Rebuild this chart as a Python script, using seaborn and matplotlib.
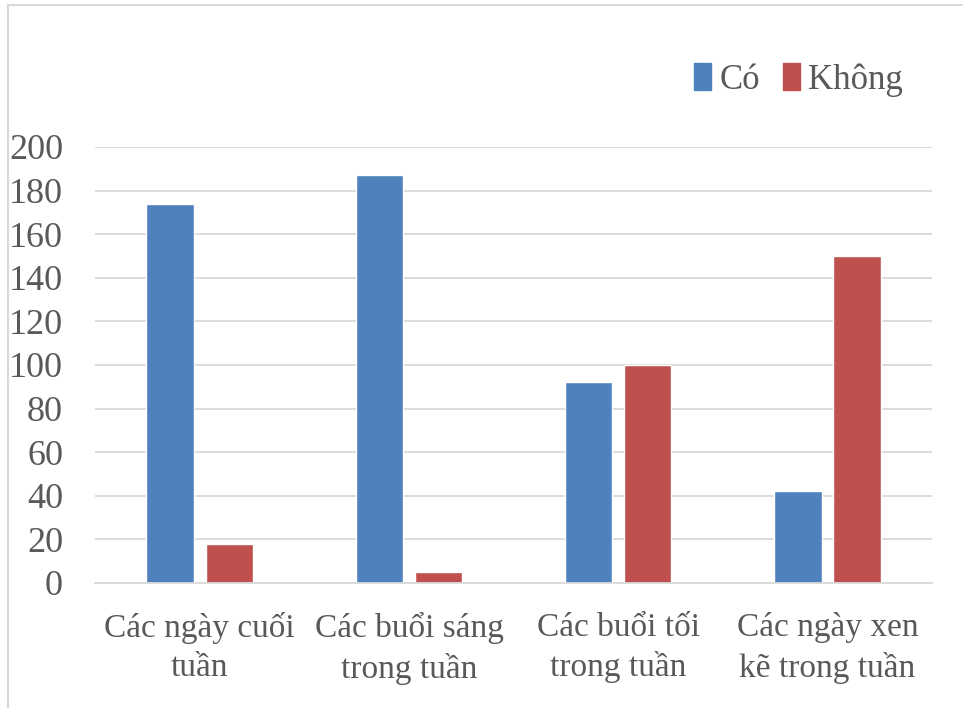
import matplotlib.pyplot as plt
import matplotlib.patches as mpatches
import seaborn as sns
import pandas as pd

# data
categories = ['Các ngày cuối\ntuần', 'Các buổi sáng\ntrong tuần',
              'Các buổi tối\ntrong tuần', 'Các ngày xen\nkẽ trong tuần']
co = [174, 187, 92, 42]
khong = [18, 5, 100, 150]
series = ['Có', 'Không']
yticks = [0, 20, 40, 60, 80, 100, 120, 140, 160, 180, 200]

df = pd.DataFrame({'cat': categories * 2,
                   'val': co + khong,
                   'series': [series[0]] * 4 + [series[1]] * 4})

sns.set_theme(style='white')
plt.rcParams['font.family'] = ['Liberation Serif', 'DejaVu Serif']
txt = '#595959'

fig = plt.figure(figsize=(9.63, 7.08), dpi=100)
ax = fig.add_axes([0.0987, 0.1766, 0.8693, 0.6158])

sns.barplot(data=df, x='cat', y='val', hue='series', ax=ax,
            palette=['#4F81BD', '#C0504D'], width=0.565, gap=0.2,
            saturation=1, legend=False)

ax.set_ylim(0, 200)
ax.set_yticks(yticks)
ax.set_xlim(-0.5, 3.5)
ax.yaxis.grid(True, color='#D9D9D9', linewidth=1.3)
ax.set_axisbelow(True)
for s in ax.spines.values():
    s.set_visible(False)
ax.spines['bottom'].set_visible(True)
ax.spines['bottom'].set_color('#D9D9D9')
ax.spines['bottom'].set_linewidth(1.3)
ax.tick_params(axis='y', length=0, labelsize=26, colors=txt, pad=23)
ax.tick_params(axis='x', length=0, labelsize=24, colors=txt, pad=21)
ax.set_xlabel('')
ax.set_ylabel('')
for lab in ax.get_xticklabels():
    lab.set_linespacing(1.34)

handles = [mpatches.Patch(color='#4F81BD', label='Có'),
           mpatches.Patch(color='#C0504D', label='Không')]
fig.legend(handles=handles, loc='center', bbox_to_anchor=(0.829, 0.887), ncol=2,
           frameon=False, fontsize=25, labelcolor=txt, handlelength=0.5,
           handleheight=0.8, handletextpad=0.23, columnspacing=0.65)

# outer chart border
fig.patches.append(mpatches.Rectangle((0.008, -0.01), 1.0, 1.003, transform=fig.transFigure,
                                      fill=False, edgecolor='#D9D9D9', linewidth=1.5))

fig.savefig('out.png', dpi=100)
